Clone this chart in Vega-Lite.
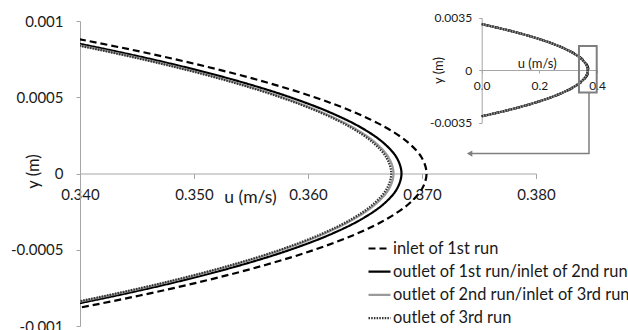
{
  "$schema": "https://vega.github.io/schema/vega-lite/v6.json",
  "width": 456,
  "height": 305,
  "autosize": {"type": "none"},
  "padding": {"left": 80, "top": 21, "right": 92, "bottom": 4},
  "background": "white",
  "config": {
    "view": {"stroke": null},
    "axis": {
      "grid": false,
      "labelFont": "Lato",
      "titleFont": "Lato",
      "domainColor": "#a6a6a6",
      "tickColor": "#a6a6a6",
      "labelColor": "#1a1a1a",
      "titleColor": "#1a1a1a",
      "titleFontWeight": "normal",
      "labelFlush": false,
      "labelOverlap": false,
      "labelBound": false
    }
  },
  "datasets": {
    "profiles": [
      {"y": 0.00307, "inlet1": 0, "outlet1": 0, "outlet2": 0, "outlet3": 0},
      {"y": 0.0028, "inlet1": 0.062286, "outlet1": 0.061916, "outlet2": 0.061799, "outlet3": 0.061765},
      {"y": 0.0025, "inlet1": 0.124774, "outlet1": 0.124033, "outlet2": 0.123797, "outlet3": 0.12373},
      {"y": 0.0022, "inlet1": 0.180187, "outlet1": 0.179117, "outlet2": 0.178776, "outlet3": 0.17868},
      {"y": 0.002, "inlet1": 0.213199, "outlet1": 0.211933, "outlet2": 0.21153, "outlet3": 0.211415},
      {"y": 0.0018, "inlet1": 0.243068, "outlet1": 0.241624, "outlet2": 0.241165, "outlet3": 0.241033},
      {"y": 0.0015, "inlet1": 0.281974, "outlet1": 0.2803, "outlet2": 0.279767, "outlet3": 0.279614},
      {"y": 0.0012, "inlet1": 0.313808, "outlet1": 0.311944, "outlet2": 0.311351, "outlet3": 0.311181},
      {"y": 0.0011, "inlet1": 0.322847, "outlet1": 0.320929, "outlet2": 0.320319, "outlet3": 0.320145},
      {"y": 0.001, "inlet1": 0.3311, "outlet1": 0.329133, "outlet2": 0.328508, "outlet3": 0.328329},
      {"y": 0.0009, "inlet1": 0.338567, "outlet1": 0.336556, "outlet2": 0.335916, "outlet3": 0.335733},
      {"y": 0.0008, "inlet1": 0.345248, "outlet1": 0.343197, "outlet2": 0.342545, "outlet3": 0.342358},
      {"y": 0.0007, "inlet1": 0.351143, "outlet1": 0.349057, "outlet2": 0.348394, "outlet3": 0.348204},
      {"y": 0.0006, "inlet1": 0.356252, "outlet1": 0.354136, "outlet2": 0.353463, "outlet3": 0.35327},
      {"y": 0.0005, "inlet1": 0.360575, "outlet1": 0.358433, "outlet2": 0.357752, "outlet3": 0.357557},
      {"y": 0.0004, "inlet1": 0.364112, "outlet1": 0.361949, "outlet2": 0.361261, "outlet3": 0.361065},
      {"y": 0.0003, "inlet1": 0.366863, "outlet1": 0.364684, "outlet2": 0.363991, "outlet3": 0.363793},
      {"y": 0.0002, "inlet1": 0.368828, "outlet1": 0.366637, "outlet2": 0.36594, "outlet3": 0.365741},
      {"y": 0.0001, "inlet1": 0.370007, "outlet1": 0.367809, "outlet2": 0.36711, "outlet3": 0.36691},
      {"y": 0, "inlet1": 0.3704, "outlet1": 0.3682, "outlet2": 0.3675, "outlet3": 0.3673},
      {"y": -0.0001, "inlet1": 0.370007, "outlet1": 0.367809, "outlet2": 0.36711, "outlet3": 0.36691},
      {"y": -0.0002, "inlet1": 0.368828, "outlet1": 0.366637, "outlet2": 0.36594, "outlet3": 0.365741},
      {"y": -0.0003, "inlet1": 0.366863, "outlet1": 0.364684, "outlet2": 0.363991, "outlet3": 0.363793},
      {"y": -0.0004, "inlet1": 0.364112, "outlet1": 0.361949, "outlet2": 0.361261, "outlet3": 0.361065},
      {"y": -0.0005, "inlet1": 0.360575, "outlet1": 0.358433, "outlet2": 0.357752, "outlet3": 0.357557},
      {"y": -0.0006, "inlet1": 0.356252, "outlet1": 0.354136, "outlet2": 0.353463, "outlet3": 0.35327},
      {"y": -0.0007, "inlet1": 0.351143, "outlet1": 0.349057, "outlet2": 0.348394, "outlet3": 0.348204},
      {"y": -0.0008, "inlet1": 0.345248, "outlet1": 0.343197, "outlet2": 0.342545, "outlet3": 0.342358},
      {"y": -0.0009, "inlet1": 0.338567, "outlet1": 0.336556, "outlet2": 0.335916, "outlet3": 0.335733},
      {"y": -0.001, "inlet1": 0.3311, "outlet1": 0.329133, "outlet2": 0.328508, "outlet3": 0.328329},
      {"y": -0.0011, "inlet1": 0.322847, "outlet1": 0.320929, "outlet2": 0.320319, "outlet3": 0.320145},
      {"y": -0.0012, "inlet1": 0.313808, "outlet1": 0.311944, "outlet2": 0.311351, "outlet3": 0.311181},
      {"y": -0.0015, "inlet1": 0.281974, "outlet1": 0.2803, "outlet2": 0.279767, "outlet3": 0.279614},
      {"y": -0.0018, "inlet1": 0.243068, "outlet1": 0.241624, "outlet2": 0.241165, "outlet3": 0.241033},
      {"y": -0.002, "inlet1": 0.213199, "outlet1": 0.211933, "outlet2": 0.21153, "outlet3": 0.211415},
      {"y": -0.0022, "inlet1": 0.180187, "outlet1": 0.179117, "outlet2": 0.178776, "outlet3": 0.17868},
      {"y": -0.0025, "inlet1": 0.124774, "outlet1": 0.124033, "outlet2": 0.123797, "outlet3": 0.12373},
      {"y": -0.0028, "inlet1": 0.062286, "outlet1": 0.061916, "outlet2": 0.061799, "outlet3": 0.061765},
      {"y": -0.00307, "inlet1": 0, "outlet1": 0, "outlet2": 0, "outlet3": 0}
    ],
    "zoomBox": [
      {"u": 0.3375, "u2": 0.399, "y": 0.00162, "y2": -0.00149}
    ],
    "pointer": [
      {"step": 1, "u": 0.3722, "y": -0.00149},
      {"step": 2, "u": 0.3722, "y": -0.00556},
      {"step": 3, "u": -0.038, "y": -0.00556}
    ],
    "pointerHead": [
      {"u": -0.042, "y": -0.00556}
    ]
  },
  "resolve": {
    "scale": {"x": "independent", "y": "independent"},
    "axis": {"x": "independent", "y": "independent"}
  },
  "layer": [
    {
      "data": {"name": "profiles"},
      "transform": [
        {"fold": ["inlet1", "outlet1", "outlet2", "outlet3"], "as": ["series", "u"]}
      ],
      "mark": {"type": "line", "clip": true, "interpolate": "catmull-rom"},
      "encoding": {
        "x": {
          "field": "u",
          "type": "quantitative",
          "scale": {"domain": [0.34, 0.38], "nice": false, "zero": false},
          "axis": {
            "orient": "bottom",
            "offset": -152.5,
            "values": [0.34, 0.35, 0.36, 0.37, 0.38],
            "format": ".3f",
            "tickSize": 5,
            "labelPadding": 9,
            "labelFontSize": 15,
            "title": "u (m/s)",
            "titleFontSize": 17.5,
            "titleX": 170,
            "titleY": 24,
            "titleBaseline": "middle",
            "titleAlign": "center",
            "titleAnchor": null
          }
        },
        "y": {
          "field": "y",
          "type": "quantitative",
          "scale": {"domain": [-0.001, 0.001], "nice": false, "zero": false},
          "axis": {
            "orient": "left",
            "values": [-0.001, -0.0005, 0, 0.0005, 0.001],
            "labelExpr": "datum.value == 0 ? '0' : (datum.value < 0 ? '-' : '') + format(abs(datum.value), '~g')",
            "tickSize": 4,
            "labelPadding": 13,
            "labelFontSize": 15,
            "title": "y (m)",
            "titleFontSize": 16.5,
            "titleX": -47,
            "titleY": 150,
            "titleAngle": 270,
            "titleBaseline": "middle",
            "titleAlign": "center",
            "titleAnchor": null
          }
        },
        "order": {"field": "y", "type": "quantitative"},
        "color": {
          "field": "series",
          "type": "nominal",
          "scale": {
            "domain": ["inlet1", "outlet1", "outlet2", "outlet3"],
            "range": ["#000000", "#000000", "#9a9a9a", "#333333"]
          },
          "legend": {
            "title": null,
            "orient": "none",
            "legendX": 287,
            "legendY": 215,
            "symbolType": "stroke",
            "symbolSize": 484,
            "symbolStrokeWidth": 2,
            "labelFont": "Lato",
            "labelFontSize": 16.4,
            "labelColor": "#1a1a1a",
            "labelOffset": 1,
            "labelLimit": 400,
            "rowPadding": 2.2,
            "padding": 0,
            "labelExpr": "{'inlet1': 'inlet of 1st run', 'outlet1': 'outlet of 1st run/inlet of 2nd run', 'outlet2': 'outlet of 2nd run/inlet of 3rd run', 'outlet3': 'outlet of 3rd run'}[datum.label]"
          }
        },
        "strokeDash": {
          "field": "series",
          "type": "nominal",
          "scale": {
            "domain": ["inlet1", "outlet1", "outlet2", "outlet3"],
            "range": [[7, 4], [1, 0], [1, 0], [1.5, 1.2]]
          },
          "legend": {
            "title": null,
            "orient": "none",
            "legendX": 287,
            "legendY": 215,
            "symbolType": "stroke",
            "symbolSize": 484,
            "symbolStrokeWidth": 2,
            "labelFont": "Lato",
            "labelFontSize": 16.4,
            "labelColor": "#1a1a1a",
            "labelOffset": 1,
            "labelLimit": 400,
            "rowPadding": 2.2,
            "padding": 0,
            "labelExpr": "{'inlet1': 'inlet of 1st run', 'outlet1': 'outlet of 1st run/inlet of 2nd run', 'outlet2': 'outlet of 2nd run/inlet of 3rd run', 'outlet3': 'outlet of 3rd run'}[datum.label]"
          }
        },
        "strokeWidth": {
          "field": "series",
          "type": "nominal",
          "scale": {
            "domain": ["inlet1", "outlet1", "outlet2", "outlet3"],
            "range": [2.2, 2.2, 1.6, 1.6]
          },
          "legend": null
        }
      }
    },
    {
      "layer": [
        {
          "data": {"name": "profiles"},
          "transform": [
            {"fold": ["inlet1", "outlet1", "outlet2", "outlet3"], "as": ["series", "u"]}
          ],
          "mark": {"type": "line", "interpolate": "catmull-rom"},
          "encoding": {
            "x": {
              "field": "u",
              "type": "quantitative",
              "scale": {"domain": [0, 0.4], "range": [401.7, 517], "nice": false, "zero": false},
              "axis": {
                "orient": "bottom",
                "offset": -256,
                "values": [0, 0.2, 0.4],
                "format": ".1f",
                "tickSize": 3,
                "labelPadding": 7,
                "labelFontSize": 12,
                "title": "u (m/s)",
                "titleFontSize": 13,
                "titleX": 456.7,
                "titleY": -7,
                "titleBaseline": "middle",
                "titleAlign": "center",
                "titleAnchor": null
              }
            },
            "y": {
              "field": "y",
              "type": "quantitative",
              "scale": {"domain": [-0.0035, 0.0035], "range": [101.7, -3.3], "nice": false, "zero": false},
              "axis": {
                "orient": "left",
                "offset": -401.7,
                "values": [-0.0035, 0, 0.0035],
                "labelExpr": "datum.value == 0 ? '0' : (datum.value < 0 ? '-' : '') + format(abs(datum.value), '~g')",
                "tickSize": 3,
                "labelPadding": 7,
                "labelFontSize": 12,
                "title": "y (m)",
                "titleFontSize": 13,
                "titleX": -43.7,
                "titleY": 49,
                "titleAngle": 270,
                "titleBaseline": "middle",
                "titleAlign": "center",
                "titleAnchor": null
              }
            },
            "order": {"field": "y", "type": "quantitative"},
            "color": {"field": "series", "type": "nominal"},
            "strokeDash": {"field": "series", "type": "nominal"},
            "strokeWidth": {"field": "series", "type": "nominal", "legend": null}
          }
        },
        {
          "data": {"name": "zoomBox"},
          "mark": {"type": "rect", "fill": null, "stroke": "#7f7f7f", "strokeWidth": 2},
          "encoding": {
            "x": {"field": "u", "type": "quantitative"},
            "x2": {"field": "u2"},
            "y": {"field": "y", "type": "quantitative"},
            "y2": {"field": "y2"}
          }
        },
        {
          "data": {"name": "pointer"},
          "mark": {"type": "line", "stroke": "#7f7f7f", "strokeWidth": 1.5},
          "encoding": {
            "x": {"field": "u", "type": "quantitative"},
            "y": {"field": "y", "type": "quantitative"},
            "order": {"field": "step", "type": "quantitative"}
          }
        },
        {
          "data": {"name": "pointerHead"},
          "mark": {"type": "point", "shape": "triangle-left", "filled": true, "size": 40, "color": "#7f7f7f", "opacity": 1},
          "encoding": {
            "x": {"field": "u", "type": "quantitative"},
            "y": {"field": "y", "type": "quantitative"}
          }
        }
      ]
    }
  ]
}
